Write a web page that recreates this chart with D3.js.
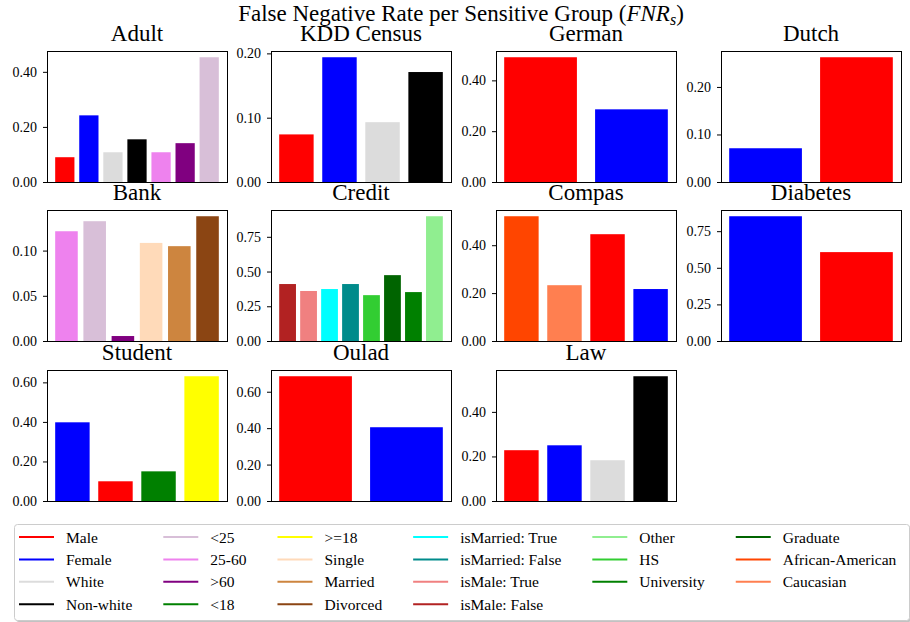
<!DOCTYPE html>
<html>
<head>
<meta charset="utf-8">
<script src="https://cdn.jsdelivr.net/npm/d3@7"></script>
<style>
  body { margin: 0; background: #fff; }
  svg { display: block; font-family: "Liberation Serif", "Times New Roman", serif; }
  .tick text { font-size: 14px; fill: #000; }
  .tick line { stroke: #000; }
</style>
</head>
<body>
<svg id="chart" width="910" height="622"></svg>
<script>
// ---- data ----
var adultGroups = ["Male", "Female", "White", "Non-white", "25-60", ">60", "<25"];
var adultFnr = [0.090, 0.242, 0.108, 0.155, 0.108, 0.141, 0.453];
var adultTicks = [0, 0.2, 0.4];

var kddGroups = ["Male", "Female", "White", "Non-white"];
var kddFnr = [0.074, 0.194, 0.093, 0.171];
var kddTicks = [0, 0.1, 0.2];

var germanGroups = ["Male", "Female"];
var germanFnr = [0.491, 0.286];
var germanTicks = [0, 0.2, 0.4];

var dutchGroups = ["Female", "Male"];
var dutchFnr = [0.071, 0.2625];
var dutchTicks = [0, 0.1, 0.2];

var bankGroups = ["25-60", "<25", ">60", "Single", "Married", "Divorced"];
var bankFnr = [0.1214, 0.1325, 0.0055, 0.1085, 0.1049, 0.138];
var bankTicks = [0, 0.05, 0.1];

var creditGroups = ["isMale: False", "isMale: True", "isMarried: True", "isMarried: False", "HS", "Graduate", "University", "Other"];
var creditFnr = [0.41, 0.36, 0.374, 0.41, 0.33, 0.474, 0.352, 0.898];
var creditTicks = [0, 0.25, 0.5, 0.75];

var compasGroups = ["African-American", "Caucasian", "Male", "Female"];
var compasFnr = [0.521, 0.233, 0.446, 0.217];
var compasTicks = [0, 0.2, 0.4];

var diabetesGroups = ["Female", "Male"];
var diabetesFnr = [0.852, 0.607];
var diabetesTicks = [0, 0.25, 0.5, 0.75];

var studentGroups = ["Female", "Male", "<18", ">=18"];
var studentFnr = [0.398, 0.0997, 0.150, 0.631];
var studentTicks = [0, 0.2, 0.4, 0.6];

var ouladGroups = ["Male", "Female"];
var ouladFnr = [0.685, 0.405];
var ouladTicks = [0, 0.2, 0.4, 0.6];

var lawGroups = ["Male", "Female", "White", "Non-white"];
var lawFnr = [0.228, 0.25, 0.183, 0.56];
var lawTicks = [0, 0.2, 0.4];

var legendGroups = ["Male", "Female", "White", "Non-white",
    "<25", "25-60", ">60", "<18",
    ">=18", "Single", "Married", "Divorced",
    "isMarried: True", "isMarried: False", "isMale: True", "isMale: False",
    "Other", "HS", "University",
    "Graduate", "African-American", "Caucasian"];
var legendColumns = [4, 4, 4, 4, 3, 3];

var groupColor = {
    "Male": "red", "Female": "blue", "White": "gainsboro", "Non-white": "black",
    "<25": "thistle", "25-60": "violet", ">60": "purple", "<18": "green",
    ">=18": "yellow", "Single": "peachpuff", "Married": "peru", "Divorced": "saddlebrown",
    "isMarried: True": "cyan", "isMarried: False": "darkcyan",
    "isMale: True": "lightcoral", "isMale: False": "firebrick",
    "Other": "lightgreen", "HS": "limegreen", "University": "green",
    "Graduate": "darkgreen", "African-American": "orangered", "Caucasian": "coral"
};

var panels = [
    { title: "Adult", groups: adultGroups, values: adultFnr, ticks: adultTicks },
    { title: "KDD Census", groups: kddGroups, values: kddFnr, ticks: kddTicks },
    { title: "German", groups: germanGroups, values: germanFnr, ticks: germanTicks },
    { title: "Dutch", groups: dutchGroups, values: dutchFnr, ticks: dutchTicks },
    { title: "Bank", groups: bankGroups, values: bankFnr, ticks: bankTicks },
    { title: "Credit", groups: creditGroups, values: creditFnr, ticks: creditTicks },
    { title: "Compas", groups: compasGroups, values: compasFnr, ticks: compasTicks },
    { title: "Diabetes", groups: diabetesGroups, values: diabetesFnr, ticks: diabetesTicks },
    { title: "Student", groups: studentGroups, values: studentFnr, ticks: studentTicks },
    { title: "Oulad", groups: ouladGroups, values: ouladFnr, ticks: ouladTicks },
    { title: "Law", groups: lawGroups, values: lawFnr, ticks: lawTicks }
];

// ---- layout ----
var colLeft = [47, 271, 496, 721];
var rowTop = [51, 210, 370];
var axW = 180, axH = 131;

var svg = d3.select("#chart");

// suptitle
var sup = svg.append("text")
    .attr("x", 461).attr("y", 21)
    .attr("text-anchor", "middle")
    .style("font-size", "23px");
sup.append("tspan").text("False Negative Rate per Sensitive Group (");
sup.append("tspan").style("font-style", "italic").text("FNR");
sup.append("tspan").style("font-style", "italic").style("font-size", "16px").attr("dy", 4).text("s");
sup.append("tspan").attr("dy", -4).text(")");

panels.forEach(function (p, i) {
    var left = colLeft[i % 4];
    var top = rowTop[Math.floor(i / 4)];
    var g = svg.append("g").attr("transform", `translate(${left}, ${top})`);

    var n = p.groups.length;
    var span = (n - 1) + 0.8;
    var x = d3.scaleLinear()
        .domain([-0.4 - 0.05 * span, n - 1 + 0.4 + 0.05 * span])
        .range([0, axW]);
    var y = d3.scaleLinear()
        .domain([0, d3.max(p.values) * 1.05])
        .range([axH, 0]);

    g.selectAll("rect.bar")
        .data(p.values)
        .enter()
        .append("rect")
        .attr("class", "bar")
        .attr("x", (d, j) => x(j - 0.4))
        .attr("width", x(0.4) - x(-0.4))
        .attr("y", d => y(d))
        .attr("height", d => axH - y(d))
        .attr("fill", (d, j) => groupColor[p.groups[j]]);

    var leftAxis = d3.axisLeft(y)
        .tickValues(p.ticks)
        .tickFormat(d3.format(".2f"))
        .tickSizeInner(4)
        .tickSizeOuter(0)
        .tickPadding(6);
    var ax = g.append("g").call(leftAxis);
    ax.select(".domain").remove();
    ax.selectAll("text").style("font-family", "'Liberation Serif', serif");

    g.append("rect")
        .attr("x", 0.5).attr("y", 0.5)
        .attr("width", axW).attr("height", axH)
        .attr("fill", "none")
        .attr("stroke", "#000")
        .attr("stroke-width", 1);

    g.append("text")
        .attr("x", axW / 2).attr("y", -10)
        .attr("text-anchor", "middle")
        .style("font-size", "23px")
        .text(p.title);
});

// ---- legend ----
var legendBox = { x: 14, y: 524, w: 895, h: 96 };
var lg = svg.append("g");
lg.append("rect")
    .attr("x", legendBox.x + 2).attr("y", legendBox.y + 2)
    .attr("width", legendBox.w).attr("height", legendBox.h)
    .attr("rx", 3)
    .attr("fill", "#999").attr("opacity", 0.6);
lg.append("rect")
    .attr("x", legendBox.x + 0.5).attr("y", legendBox.y + 0.5)
    .attr("width", legendBox.w).attr("height", legendBox.h)
    .attr("rx", 3)
    .attr("fill", "#fff").attr("stroke", "#ccc");

var colX = legendBox.x + 5;
var idx = 0;
legendColumns.forEach(function (count) {
    var maxW = 0;
    for (var r = 0; r < count; r++) {
        var name = legendGroups[idx++];
        var yy = 537 + r * 22.4;
        lg.append("line")
            .attr("x1", colX).attr("x2", colX + 35)
            .attr("y1", yy).attr("y2", yy)
            .attr("stroke", groupColor[name])
            .attr("stroke-width", 2);
        var t = lg.append("text")
            .attr("x", colX + 47).attr("y", yy + 5.5)
            .style("font-size", "15.5px")
            .text(name);
        maxW = Math.max(maxW, t.node().getComputedTextLength());
    }
    colX = colX + 47 + maxW + 31;
});
</script>
</body>
</html>
